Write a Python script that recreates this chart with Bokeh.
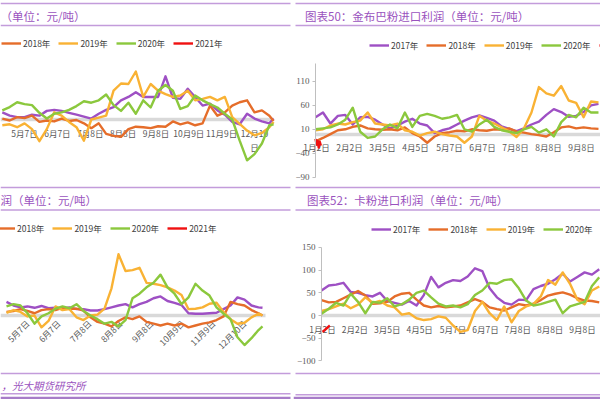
import math
from bokeh.plotting import figure
from bokeh.models import Range1d, LinearAxis, FixedTicker, Legend, LegendItem
from bokeh.layouts import column, row
from bokeh.embed import file_html
from bokeh.resources import INLINE
from bokeh.core.properties import value

# ---------------- data ----------------
tick_days = [2, 33, 64, 95, 127, 158, 189, 220, 251, 282, 313, 344]
tick_labels = ["1月2日", "2月2日", "3月5日", "4月5日", "5月7日", "6月7日",
               "7月8日", "8月8日", "9月8日", "10月9日", "11月9日", "12月10日"]
years = ["2017年", "2018年", "2019年", "2020年", "2021年"]

# day-of-year grids
left_days = list(range(106, 359, 7)) + [362]
right_days = list(range(1, 268, 7))

# top-left panel (title cut off at the left edge)
tl_2017 = [15, 8, 5, 5, 10, 8, 18, 20, 18, 14, 10, 6, 2, 12, 20, 26, 40, 47, 57, 47,
           47, 47, 90, 45, 43, 64, 47, 29, 33, 19, 10, -5, -10, 12, 2, -4, -8, 2]
tl_2018 = [2, -2, 5, 3, 8, -5, -2, -4, 2, -3, -1, -8, -18, -8, -30, -34, -36, -20, -15, -16,
           -18, -14, -15, -4, -10, -6, -12, -8, 29, 8, 15, 29, 36, 40, 15, 19, 8, -3]
tl_2019 = [-12, -10, -16, -8, -20, -45, -20, 15, 8, -5, -16, -44, 0, 4, 8, 60, 75, 74, 100, 47,
           74, 60, 53, 47, 50, 60, 40, 43, 47, 40, 47, 5, -9, -23, -33, -28, -16, -5]
tl_2020 = [19, 26, 36, 32, 30, 14, 2, 12, 15, 20, 28, 38, 35, 40, 52, 30, 18, 35, 12, 40,
           25, 60, 72, 60, 22, 28, 50, 40, 32, 25, 12, 0, -44, -85, -72, -50, -12, -10]
left_2021_days = [1]
left_2021 = [float("nan")]  # 2021 has no visible points in the cropped left panels

# top-right panel: 图表50 金布巴粉进口利润
tr_2017 = [35, 45, 22, 38, 40, 20, 35, 36, 30, 20, 12, 18, 26, 32, 22, 18, 2, 8, 12, 20,
           28, 35, 39, 34, 28, 16, 11, 6, 12, 20, 26, 40, 52, 46, 36, 38, 46, 60, 63]
tr_2018 = [-15, -8, 0, 8, 10, 15, 18, 12, 10, 9, 10, 8, 14, 2, -5, -18, -5, 2, 4, 7,
           6, 10, 8, 7, 10, 9, 12, 5, 3, 0, -2, -5, 4, 14, 16, 12, 14, 12, 11]
tr_2019 = [8, 10, 18, 22, 20, 25, 28, 45, 22, 20, 18, 22, 8, 5, -3, 2, 5, 0, -3, -5,
           -18, -5, 38, 28, 22, 14, 6, -6, 12, 45, 98, 85, 80, 100, 70, 65, 35, 68, 66]
tr_2020 = [10, 12, 14, 20, 30, 55, 5, -8, -5, 10, 20, 12, 45, 15, 38, 42, 38, 32, 35, 40,
           10, 5, 20, 30, 15, 8, 5, 2, 10, 15, 3, 10, -5, 25, 40, 35, 55, 45, 45]
tr_2021_days = [1, 2, 3, 4, 5, 6]
tr_2021 = [-10, -22, -14, -28, -16, -24]

# bottom-left panel (title cut off at the left edge)
bl_2017 = [30, 22, 18, 20, 17, 21, 16, 17, 15, 18, 14, 14, 11, 11, 14, 18, 22, 25, 18, 25,
           30, 38, 42, 32, 28, 23, 5, 4, 4, 5, 6, 14, 22, 40, 35, 22, 18, 17]
bl_2018 = [8, 10, 14, 10, 5, 12, 14, 12, 17, 15, 15, 11, -4, -14, -18, -24, -12, -4, -8, -2,
           -14, -18, -22, -18, -22, -18, -26, -22, -18, -15, -10, -2, 30, 25, 22, 12, 5, 0]
bl_2019 = [6, 12, 8, -2, 0, -26, -12, 20, 12, 14, -4, -10, 0, 2, 15, 60, 135, 98, 100, 105,
           72, 70, 67, 62, 55, 45, 14, 15, 18, 26, 28, 8, -8, -18, -16, -4, 4, 0]
bl_2020 = [20, 25, 22, 5, -18, -2, 5, 15, 20, 16, 25, 10, 0, -8, -18, -14, -24, -10, 38, 48,
           62, 72, 90, 62, 48, 25, 40, 70, 55, 44, 18, 4, -8, -48, -65, -50, -32, -24]

# bottom-right panel: 图表52 卡粉进口利润
br_2017 = [55, 66, 68, 72, 52, 50, 45, 42, 50, 32, 28, 24, 32, 22, 45, 85, 62, 72, 78, 76,
           86, 104, 98, 60, 40, 28, 24, 35, 34, 58, 65, 70, 80, 92, 75, 85, 95, 90, 102]
br_2018 = [34, 29, 30, 38, 46, 54, 44, 26, 27, 30, 42, 48, 50, 35, 22, 18, 21, 18, 20, 22,
           29, 36, 30, 18, 14, 11, 18, 25, 22, 26, 34, 44, 48, 51, 46, 38, 33, 32, 29]
br_2019 = [10, 14, 20, 26, 16, 24, 40, 28, 32, 22, 18, 2, 5, -6, -10, -8, -2, -5, -22, -36,
           -32, 10, 30, 5, -10, 20, -15, 10, 20, 25, 42, 78, 68, 95, 70, 35, 25, 55, 64]
br_2020 = [4, 15, 28, 22, 48, 30, 5, 30, 28, 38, 20, 25, 35, 50, 55, 40, 26, 20, 22, 18,
           25, 45, 55, 72, 70, 78, 80, 60, 33, 22, 25, 30, 35, 5, 20, 25, 30, 65, 84]
br_2021_days = [2, 4, 6, 8, 9]
br_2021 = [-36, -32, -28, -24, -22]

tr_yticks = [-90, -40, 10, 60, 110]
br_yticks = [-100, -50, 0, 50, 100, 150]

# ---------------- styles ----------------
COLORS = ["#9E50C4", "#E56D2A", "#F9B234", "#8BC83D", "#F01010"]
TITLE_C = "#9A52BE"
RULE_C = "#C39CDB"
CJK = "Noto Sans CJK SC"
LW = 2.4


def band(w, h, rules, texts):
    p = figure(width=w, height=h, x_range=Range1d(0, w), y_range=Range1d(h, 0),
               x_axis_type=None, y_axis_type=None, toolbar_location=None,
               output_backend="svg", min_border=0, outline_line_color=None)
    for x0, x1, y, c, lw in rules:
        p.segment(x0=[x0], y0=[y], x1=[x1], y1=[y], line_color=c, line_width=lw)
    for x, y, t, size, style in texts:
        p.text(x=[x], y=[y], text=[t], text_font=value(CJK), text_font_size=size,
               text_color=TITLE_C, text_baseline="middle", text_align="left",
               text_font_style=style)
    return p


def chart(w, h, xr, yr, series, band_end, leg_x, leg_y, skip_first_legend=False,
          blank_last_label=False, yticks=None, ybounds=None, rotate=False, last_label=None):
    p = figure(width=w, height=h, x_range=Range1d(*xr), y_range=Range1d(*yr),
               x_axis_type=None, y_axis_type=None, toolbar_location=None,
               output_backend="svg", min_border=0, outline_line_color=None)
    labels = dict(zip(tick_days, tick_labels))
    if last_label:
        labels[tick_days[-1]] = last_label
    xax = LinearAxis(fixed_location=0, bounds=(1, band_end),
                     ticker=FixedTicker(ticks=tick_days),
                     major_label_overrides=labels,
                     axis_line_color="#D9D9D9", axis_line_width=3.5,
                     major_tick_line_color=None, minor_tick_line_color=None,
                     major_tick_out=0, major_tick_in=0,
                     major_label_standoff=6 if rotate else 7,
                     major_label_text_font=CJK, major_label_text_font_size="8.5px",
                     major_label_text_color="#595959")
    if rotate:
        xax.major_label_orientation = math.pi / 4
    xax.level = "underlay"
    p.add_layout(xax, "below")
    if yticks is not None:
        yax = LinearAxis(fixed_location=1, bounds=ybounds,
                         ticker=FixedTicker(ticks=yticks),
                         axis_line_color="#BFBFBF", axis_line_width=1,
                         major_tick_line_color="#BFBFBF", major_tick_out=3, major_tick_in=0,
                         minor_tick_line_color=None, major_label_standoff=3,
                         major_label_text_font="Liberation Serif",
                         major_label_text_font_size="9px",
                         major_label_text_color="#595959")
        p.add_layout(yax, "left")
    items = []
    n = len(series)
    for i, ((xs, ys), c, lab) in enumerate(zip(series, COLORS, years)):
        r = p.line(xs, ys, line_color=c, line_width=LW, line_join="round")
        if skip_first_legend and i == 0:
            continue
        if blank_last_label and i == n - 1:
            # this entry runs past the right edge of the crop: only its line shows
            lab = ""
        items.append(LegendItem(label=lab, renderers=[r]))
    leg = Legend(items=items, location=(leg_x, leg_y), orientation="horizontal",
                 label_text_font=CJK, label_text_font_size="8.5px",
                 label_text_color="#404040", glyph_width=20, glyph_height=10,
                 label_height=10, label_standoff=2, spacing=8, padding=0, margin=0,
                 border_line_color=None, background_fill_alpha=0)
    p.add_layout(leg)
    return p


LW_ = 293
RW_ = 307

# title / source bands
b1l = band(LW_, 28, [(0, 290, 3, RULE_C, 1.6), (0, 290, 25, RULE_C, 1.6)],
           [(0, 15, "（单位：元/吨）", "11.5px", "normal")])
b1r = band(RW_, 28, [(2, RW_, 3, RULE_C, 1.6), (2, RW_, 25, RULE_C, 1.6)],
           [(11.5, 15, "图表50：金布巴粉进口利润（单位：元/吨）", "11.5px", "normal")])
b2l = band(LW_, 30, [(0, 290, 4, RULE_C, 1.6), (0, 290, 26.5, RULE_C, 1.6)],
           [(0, 16.5, "润（单位：元/吨）", "11.5px", "normal")])
b2r = band(RW_, 30, [(2, RW_, 4, RULE_C, 1.6), (2, RW_, 26.5, RULE_C, 1.6)],
           [(13.5, 16.5, "图表52：卡粉进口利润（单位：元/吨）", "11.5px", "normal")])
b3l = band(LW_, 32, [(0, 290, 5, RULE_C, 1.6), (0, 290, 25.3, RULE_C, 1.6),
                     (0, 290, 29.3, "#A77CC8", 2.2)],
           [(1, 17, "，光大期货研究所", "10.5px", "italic")])
b3r = band(RW_, 32, [(2, RW_, 5, RULE_C, 1.6), (2, RW_, 26.3, RULE_C, 1.6),
                     (0, RW_, 29.3, "#A77CC8", 2.2)], [])

# charts
c1l = chart(LW_, 155, (104.3, 380.8), (-133.3, 189.6),
            [(left_days, tl_2017), (left_days, tl_2018), (left_days, tl_2019),
             (left_days, tl_2020), (left_2021_days, left_2021)],
            362, 1, 134.5, skip_first_legend=True, last_label="12月10\n日")
c1r = chart(RW_, 155, (-19.7, 268.9), (-102.9, 220.0),
            [(right_days, tr_2017), (right_days, tr_2018), (right_days, tr_2019),
             (right_days, tr_2020), (tr_2021_days, tr_2021)],
            400, 76, 132.5, blank_last_label=True, yticks=tr_yticks, ybounds=(-90, 147))
c2l = chart(LW_, 155, (100, 393), (-116.7, 224.7),
            [(left_days, bl_2017), (left_days, bl_2018), (left_days, bl_2019),
             (left_days, bl_2020), (left_2021_days, left_2021)],
            365, -5, 134.5, skip_first_legend=True, rotate=True)
c2r = chart(RW_, 155, (-25.8, 268.2), (-116.7, 224.7),
            [(right_days, br_2017), (right_days, br_2018), (right_days, br_2019),
             (right_days, br_2020), (br_2021_days, br_2021)],
            400, 78, 133.5, blank_last_label=True, yticks=br_yticks, ybounds=(-100, 150))

layout = column(row(b1l, b1r), row(c1l, c1r), row(b2l, b2r), row(c2l, c2r), row(b3l, b3r))

open("out.html", "w").write(file_html(layout, INLINE))
